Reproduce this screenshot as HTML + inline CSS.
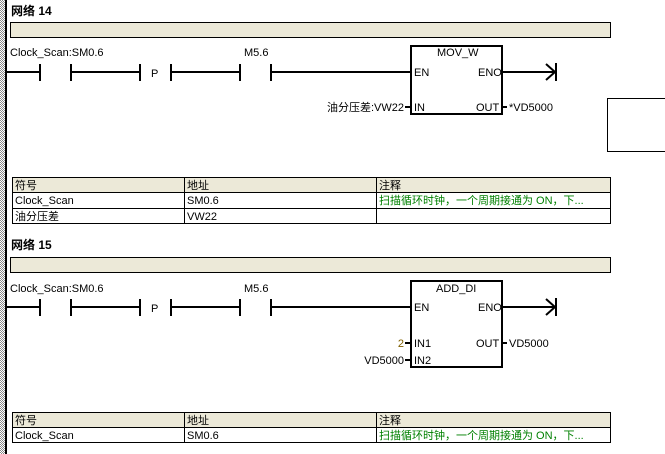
<!DOCTYPE html>
<html><head><meta charset="utf-8"><style>
html,body{margin:0;padding:0;background:#fff;width:665px;height:454px;overflow:hidden}
text{font-family:"Liberation Sans","Noto Sans CJK SC",sans-serif;font-size:11px;fill:#000}
.b{font-weight:bold;font-size:12px}
.g{fill:#008000}
</style></head><body>
<svg width="665" height="454" xmlns="http://www.w3.org/2000/svg">
<defs><pattern id="dots" width="2" height="2" patternUnits="userSpaceOnUse"><rect width="2" height="2" fill="#fff"/><rect width="1" height="1" fill="#888"/><rect x="1" y="1" width="1" height="1" fill="#888"/></pattern></defs>
<rect x="0" y="0" width="5" height="454" fill="url(#dots)"/>
<line x1="6" y1="0" x2="6" y2="454" stroke="#000" stroke-width="2"/>

<!-- Network 14 -->
<text x="11" y="15" class="b">网络 14</text>
<rect x="10.5" y="22.5" width="600" height="15" fill="#ECE9D8" stroke="#000"/>
<text x="10" y="56">Clock_Scan:SM0.6</text>
<text x="244" y="56">M5.6</text>
<g stroke="#000" stroke-width="2" fill="none">
<line x1="6" y1="72" x2="40" y2="72"/>
<line x1="40" y1="64" x2="40" y2="81"/><line x1="71" y1="64" x2="71" y2="81"/>
<line x1="71" y1="72" x2="140" y2="72"/>
<line x1="140" y1="64" x2="140" y2="81"/><line x1="171" y1="64" x2="171" y2="81"/>
<line x1="171" y1="72" x2="240" y2="72"/>
<line x1="240" y1="64" x2="240" y2="81"/><line x1="271" y1="64" x2="271" y2="81"/>
<line x1="271" y1="72" x2="411" y2="72"/>
<rect x="411" y="46" width="91" height="68"/>
<line x1="502" y1="72" x2="556" y2="72"/>
<polyline points="546,64 555,72 546,80"/>
<line x1="556" y1="63" x2="556" y2="81"/>
<line x1="405" y1="107" x2="411" y2="107"/>
<line x1="502" y1="107" x2="507" y2="107"/>
</g>
<text x="151" y="77">P</text>
<text x="437" y="56">MOV_W</text>
<text x="414" y="76">EN</text>
<text x="478" y="76">ENO</text>
<text x="414" y="111">IN</text>
<text x="476" y="111">OUT</text>
<text x="404" y="111" text-anchor="end">油分压差:VW22</text>
<text x="509" y="111">*VD5000</text>
<rect x="607.5" y="98.5" width="60" height="53" fill="none" stroke="#000"/>

<!-- Table 1 -->
<rect x="12.5" y="177.5" width="598" height="15" fill="#ECE9D8"/>
<g stroke="#000" fill="none">
<rect x="12.5" y="177.5" width="598" height="46"/>
<line x1="12" y1="192.5" x2="611" y2="192.5"/>
<line x1="12" y1="208.5" x2="611" y2="208.5"/>
<line x1="184.5" y1="177" x2="184.5" y2="224"/>
<line x1="376.5" y1="177" x2="376.5" y2="224"/>
</g>
<text x="15" y="189">符号</text><text x="187" y="189">地址</text><text x="379" y="189">注释</text>
<text x="15" y="204">Clock_Scan</text><text x="187" y="204">SM0.6</text><text x="379" y="204" class="g">扫描循环时钟，一个周期接通为 ON，下...</text>
<text x="15" y="220">油分压差</text><text x="187" y="220">VW22</text>

<!-- Network 15 -->
<text x="11" y="249" class="b">网络 15</text>
<rect x="10.5" y="257.5" width="600" height="15" fill="#ECE9D8" stroke="#000"/>
<text x="10" y="292">Clock_Scan:SM0.6</text>
<text x="244" y="292">M5.6</text>
<g stroke="#000" stroke-width="2" fill="none">
<line x1="6" y1="307" x2="40" y2="307"/>
<line x1="40" y1="299" x2="40" y2="316"/><line x1="71" y1="299" x2="71" y2="316"/>
<line x1="71" y1="307" x2="140" y2="307"/>
<line x1="140" y1="299" x2="140" y2="316"/><line x1="171" y1="299" x2="171" y2="316"/>
<line x1="171" y1="307" x2="240" y2="307"/>
<line x1="240" y1="299" x2="240" y2="316"/><line x1="271" y1="299" x2="271" y2="316"/>
<line x1="271" y1="307" x2="411" y2="307"/>
<rect x="411" y="281" width="91" height="86"/>
<line x1="502" y1="307" x2="556" y2="307"/>
<polyline points="546,299 555,307 546,315"/>
<line x1="556" y1="298" x2="556" y2="316"/>
<line x1="405" y1="343" x2="411" y2="343"/>
<line x1="405" y1="360" x2="411" y2="360"/>
<line x1="502" y1="343" x2="507" y2="343"/>
</g>
<text x="151" y="312">P</text>
<text x="436" y="292">ADD_DI</text>
<text x="414" y="311">EN</text>
<text x="478" y="311">ENO</text>
<text x="414" y="347">IN1</text>
<text x="414" y="364">IN2</text>
<text x="476" y="347">OUT</text>
<text x="404" y="347" text-anchor="end" fill="#806000" style="fill:#806000">2</text>
<text x="404" y="364" text-anchor="end">VD5000</text>
<text x="509" y="347">VD5000</text>

<!-- Table 2 -->
<rect x="12.5" y="412.5" width="598" height="15" fill="#ECE9D8"/>
<g stroke="#000" fill="none">
<rect x="12.5" y="412.5" width="598" height="30"/>
<line x1="12" y1="427.5" x2="611" y2="427.5"/>
<line x1="184.5" y1="412" x2="184.5" y2="443"/>
<line x1="376.5" y1="412" x2="376.5" y2="443"/>
</g>
<text x="15" y="424">符号</text><text x="187" y="424">地址</text><text x="379" y="424">注释</text>
<text x="15" y="439">Clock_Scan</text><text x="187" y="439">SM0.6</text><text x="379" y="439" class="g">扫描循环时钟，一个周期接通为 ON，下...</text>
</svg>
</body></html>
